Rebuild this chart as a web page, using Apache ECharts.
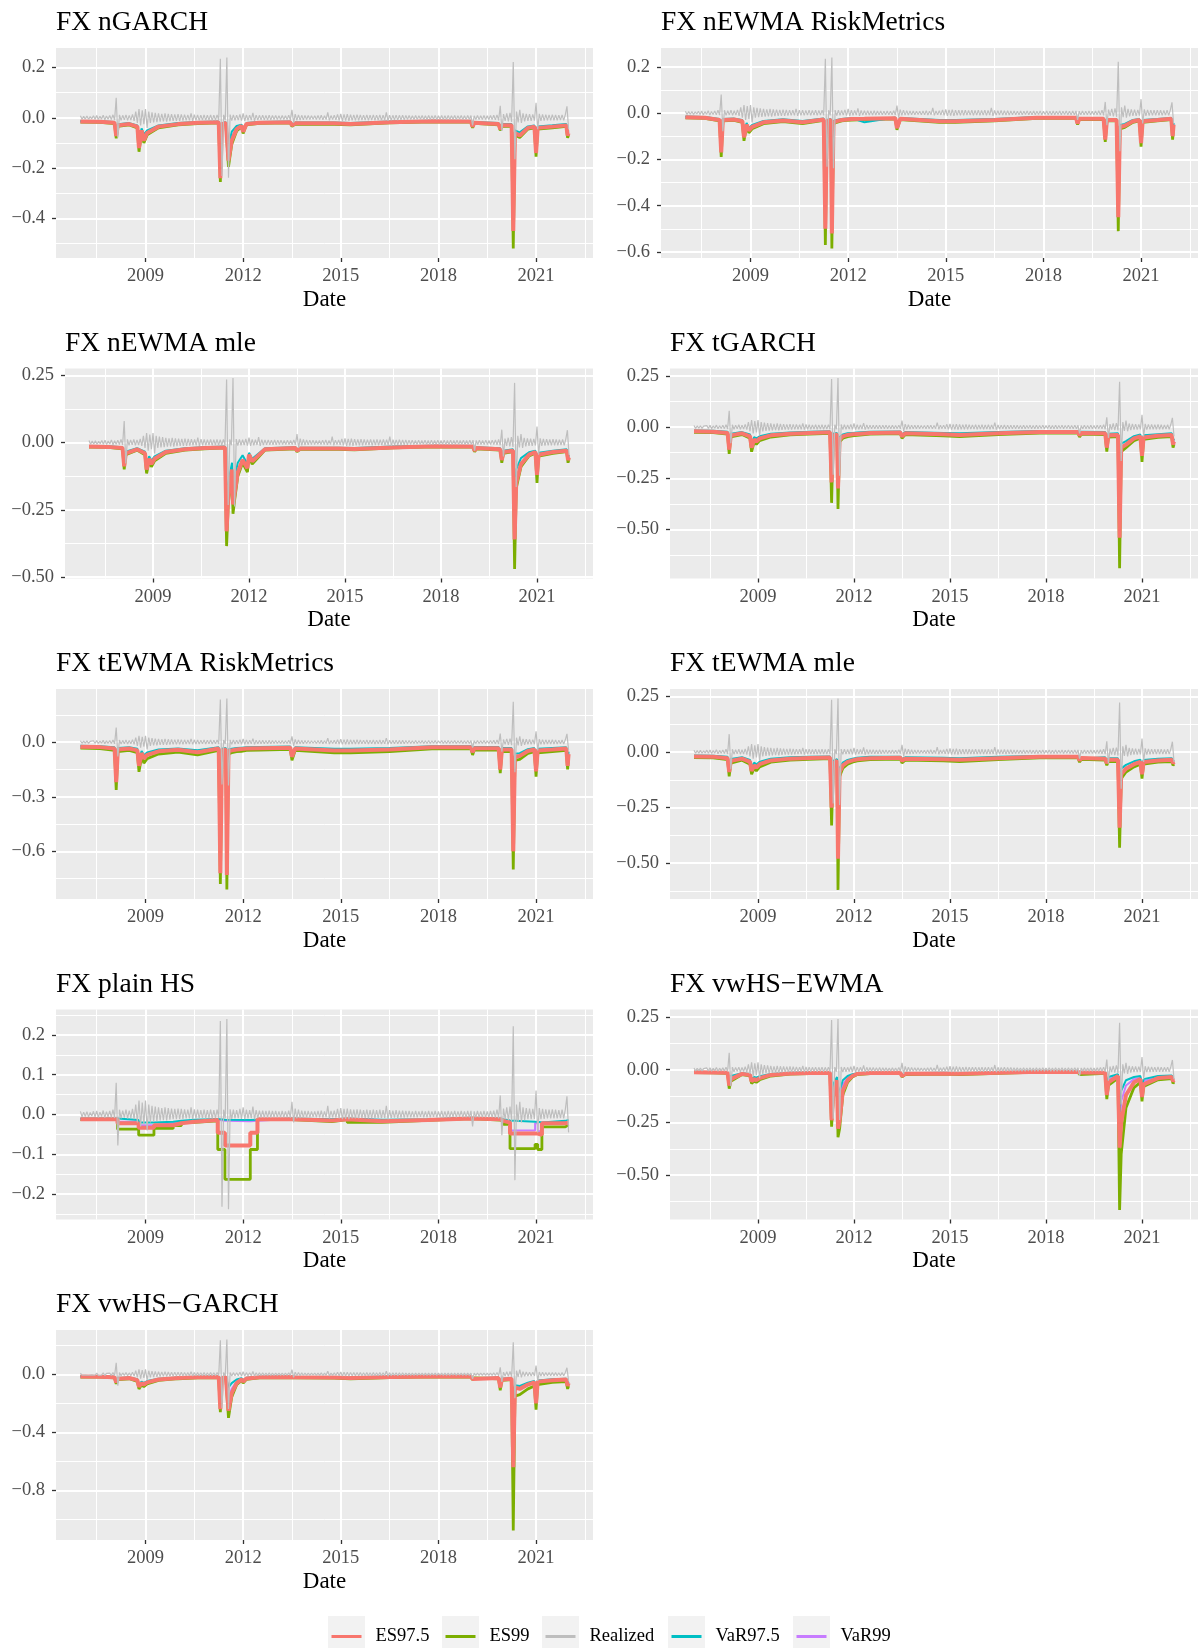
<!DOCTYPE html>
<html lang="en">
<head>
<meta charset="UTF-8">
<title>FX VaR and ES</title>
<style>
  *{margin:0;padding:0;}
  body{background:#fff;}
  #main{width:1198px;height:1648px;}
</style>
<script src="https://cdn.jsdelivr.net/npm/echarts@6/dist/echarts.min.js"></script>
</head>
<body>
<div id="main"></div>
<script>
const seriesNames = ['ES97.5', 'ES99', 'Realized', 'VaR97.5', 'VaR99'];
const xTicks = [2009, 2012, 2015, 2018, 2021];
const xMinorTicks = [2007.5, 2010.5, 2013.5, 2016.5, 2019.5, 2022.5];

// realized returns, one value every 0.05 year from 2007.00
const realized = [
  0.008,-0.006,0.006,-0.005,0.007,-0.006,0.005,-0.004,0.008,-0.006,0.009,-0.007,0.006,-0.005,0.01,-0.008,0.007,-0.006,0.009,-0.007,
  0.012,-0.009,0.08,-0.078,0.012,-0.01,0.01,-0.008,0.012,-0.01,0.01,-0.009,0.014,-0.012,0.025,-0.02,0.035,-0.03,0.03,-0.025,
  0.035,-0.04,0.025,-0.02,0.022,-0.018,0.02,-0.017,0.018,-0.015,0.016,-0.014,0.018,-0.015,0.016,-0.013,0.015,-0.012,0.014,-0.012,
  0.015,-0.012,0.014,-0.011,0.013,-0.01,0.012,-0.01,0.018,-0.012,0.013,-0.01,0.012,-0.01,0.011,-0.009,0.012,-0.01,0.011,-0.009,
  0.012,-0.01,0.011,-0.009,0.012,-0.01,0.235,-0.232,0.012,-0.01,0.24,-0.238,0.013,-0.011,0.012,-0.01,0.011,-0.009,0.014,-0.011,
  0.018,-0.012,0.012,-0.01,0.011,-0.009,0.02,-0.012,0.011,-0.009,0.01,-0.008,0.01,-0.008,0.009,-0.008,0.01,-0.008,0.009,-0.007,
  0.009,-0.007,0.008,-0.007,0.009,-0.007,0.008,-0.007,0.01,-0.008,0.032,-0.02,0.015,-0.01,0.012,-0.009,0.01,-0.008,0.009,-0.007,
  0.009,-0.007,0.008,-0.006,0.008,-0.007,0.009,-0.007,0.01,-0.008,0.008,-0.007,0.022,-0.01,0.009,-0.007,0.01,-0.008,0.014,-0.01,
  0.016,-0.012,0.014,-0.011,0.015,-0.012,0.013,-0.01,0.012,-0.01,0.013,-0.01,0.012,-0.009,0.011,-0.009,0.012,-0.01,0.011,-0.009,
  0.012,-0.01,0.011,-0.009,0.012,-0.01,0.011,-0.009,0.022,-0.012,0.011,-0.009,0.01,-0.008,0.011,-0.009,0.01,-0.008,0.01,-0.008,
  0.009,-0.007,0.009,-0.007,0.008,-0.007,0.009,-0.007,0.008,-0.006,0.009,-0.007,0.008,-0.007,0.009,-0.007,0.008,-0.006,0.009,-0.007,
  0.008,-0.006,0.009,-0.007,0.008,-0.007,0.009,-0.007,0.008,-0.006,0.009,-0.007,0.008,-0.006,0.009,-0.007,0.008,-0.007,0.009,-0.007,
  0.009,-0.03,0.008,-0.007,0.009,-0.007,0.008,-0.007,0.009,-0.007,0.008,-0.007,0.009,-0.007,0.01,-0.008,0.012,-0.01,0.048,-0.052,
  0.015,-0.012,0.018,-0.014,0.02,-0.016,0.222,-0.165,0.025,-0.018,0.032,-0.02,0.018,-0.014,0.016,-0.012,0.015,-0.012,0.014,-0.011,
  0.06,-0.045,0.016,-0.012,0.014,-0.011,0.013,-0.01,0.012,-0.01,0.013,-0.01,0.012,-0.01,0.011,-0.009,0.012,-0.01,0.013,0.046,-0.045
];
const realizedDates = realized.map((v, k) => 2007 + k * 0.05);

// key dates for the model based forecasts
const dates = [
  2007.00,2007.60,2008.05,2008.10,2008.15,2008.50,2008.75,2008.80,2008.88,2008.95,
  2009.05,2009.40,2010.00,2010.60,2011.25,2011.30,2011.35,2011.47,2011.50,2011.55,
  2011.65,2011.80,2011.95,2012.00,2012.10,2012.50,2013.45,2013.50,2013.60,2014.80,
  2015.30,2016.50,2017.80,2019.00,2019.05,2019.10,2019.85,2019.90,2019.95,2020.25,
  2020.30,2020.35,2020.50,2020.75,2020.95,2021.00,2021.05,2021.50,2021.93,2021.97,2022.00
];

const garchES975 = [-0.015,-0.016,-0.02,-0.072,-0.03,-0.025,-0.035,-0.12,-0.05,-0.09, -0.06,-0.035,-0.025,-0.02,-0.018,-0.24,-0.025,-0.02,-0.02,-0.17, -0.09,-0.045,-0.032,-0.055,-0.025,-0.02,-0.018,-0.03,-0.022,-0.022, -0.025,-0.018,-0.014,-0.015,-0.035,-0.02,-0.025,-0.045,-0.03,-0.03, -0.45,-0.06,-0.07,-0.04,-0.035,-0.14,-0.04,-0.035,-0.03,-0.07,-0.06];
const garchES99 = [-0.017,-0.018,-0.023,-0.082,-0.034,-0.028,-0.04,-0.135,-0.056,-0.1, -0.068,-0.04,-0.028,-0.023,-0.02,-0.255,-0.028,-0.022,-0.022,-0.195, -0.105,-0.052,-0.036,-0.062,-0.028,-0.022,-0.02,-0.034,-0.025,-0.026, -0.028,-0.02,-0.016,-0.017,-0.04,-0.022,-0.028,-0.05,-0.034,-0.034, -0.52,-0.068,-0.078,-0.045,-0.04,-0.155,-0.045,-0.04,-0.034,-0.08,-0.068];
const garchVaR975 = [-0.013,-0.014,-0.017,-0.055,-0.026,-0.021,-0.03,-0.09,-0.042,-0.067, -0.05,-0.03,-0.021,-0.017,-0.015,-0.18,-0.021,-0.017,-0.017,-0.11, -0.055,-0.032,-0.027,-0.045,-0.021,-0.017,-0.015,-0.025,-0.019,-0.019, -0.021,-0.015,-0.012,-0.013,-0.03,-0.017,-0.021,-0.038,-0.025,-0.025, -0.34,-0.05,-0.058,-0.034,-0.03,-0.11,-0.034,-0.03,-0.025,-0.058,-0.05];
const garchVaR99 = [-0.0145,-0.0155,-0.0195,-0.064,-0.029,-0.024,-0.034,-0.105,-0.048,-0.078, -0.057,-0.034,-0.024,-0.0195,-0.0175,-0.21,-0.024,-0.0195,-0.0195,-0.14, -0.075,-0.04,-0.031,-0.05,-0.024,-0.0195,-0.0175,-0.029,-0.021,-0.021, -0.024,-0.0175,-0.0135,-0.0145,-0.034,-0.0195,-0.024,-0.043,-0.029,-0.029, -0.4,-0.057,-0.066,-0.038,-0.034,-0.13,-0.038,-0.034,-0.029,-0.066,-0.057];

const rmES975 = [-0.018,-0.02,-0.03,-0.17,-0.03,-0.028,-0.035,-0.105,-0.05,-0.075, -0.06,-0.04,-0.032,-0.04,-0.028,-0.5,-0.035,-0.03,-0.52,-0.04, -0.035,-0.03,-0.028,-0.03,-0.026,-0.025,-0.022,-0.065,-0.025,-0.035, -0.035,-0.03,-0.02,-0.02,-0.045,-0.025,-0.025,-0.115,-0.03,-0.03, -0.45,-0.06,-0.055,-0.035,-0.03,-0.13,-0.035,-0.03,-0.025,-0.1,-0.05];
const rmES99 = [-0.021,-0.023,-0.034,-0.19,-0.034,-0.032,-0.04,-0.12,-0.057,-0.085, -0.068,-0.046,-0.037,-0.046,-0.032,-0.57,-0.04,-0.034,-0.585,-0.046, -0.04,-0.034,-0.032,-0.034,-0.03,-0.028,-0.025,-0.072,-0.028,-0.04, -0.04,-0.034,-0.023,-0.023,-0.05,-0.028,-0.028,-0.125,-0.034,-0.034, -0.51,-0.068,-0.062,-0.04,-0.034,-0.145,-0.04,-0.034,-0.028,-0.115,-0.057];
const rmVaR975 = [-0.015,-0.017,-0.026,-0.14,-0.026,-0.024,-0.03,-0.09,-0.043,-0.064, -0.051,-0.034,-0.027,-0.034,-0.024,-0.42,-0.03,-0.026,-0.44,-0.034, -0.03,-0.026,-0.024,-0.026,-0.022,-0.04,-0.019,-0.055,-0.021,-0.03, -0.03,-0.026,-0.017,-0.017,-0.038,-0.021,-0.021,-0.098,-0.026,-0.026, -0.38,-0.051,-0.047,-0.03,-0.026,-0.11,-0.03,-0.026,-0.021,-0.085,-0.043];
const rmVaR99 = [-0.0175,-0.0195,-0.029,-0.165,-0.029,-0.027,-0.034,-0.1,-0.048,-0.073, -0.058,-0.039,-0.031,-0.039,-0.027,-0.48,-0.034,-0.029,-0.5,-0.039, -0.034,-0.029,-0.027,-0.029,-0.025,-0.024,-0.021,-0.063,-0.024,-0.034, -0.034,-0.029,-0.019,-0.019,-0.044,-0.024,-0.024,-0.11,-0.029,-0.029, -0.43,-0.058,-0.053,-0.034,-0.029,-0.125,-0.034,-0.029,-0.024,-0.097,-0.048];

const mleES975 = [-0.015,-0.016,-0.02,-0.088,-0.04,-0.025,-0.04,-0.1,-0.06,-0.08, -0.06,-0.035,-0.025,-0.02,-0.018,-0.33,-0.2,-0.1,-0.23,-0.19, -0.11,-0.065,-0.095,-0.045,-0.07,-0.025,-0.02,-0.03,-0.022,-0.022, -0.024,-0.018,-0.014,-0.015,-0.03,-0.02,-0.025,-0.065,-0.035,-0.03, -0.36,-0.15,-0.08,-0.045,-0.035,-0.12,-0.045,-0.035,-0.03,-0.065,-0.055];
const mleES99 = [-0.017,-0.018,-0.023,-0.1,-0.045,-0.028,-0.045,-0.115,-0.068,-0.09, -0.068,-0.04,-0.028,-0.023,-0.02,-0.385,-0.23,-0.115,-0.265,-0.215, -0.125,-0.075,-0.11,-0.052,-0.08,-0.028,-0.023,-0.034,-0.025,-0.025, -0.027,-0.02,-0.016,-0.017,-0.034,-0.023,-0.028,-0.075,-0.04,-0.034, -0.47,-0.17,-0.09,-0.05,-0.04,-0.15,-0.05,-0.04,-0.034,-0.075,-0.062];
const mleVaR975 = [-0.013,-0.014,-0.017,-0.075,-0.034,-0.021,-0.034,-0.085,-0.051,-0.068, -0.051,-0.03,-0.021,-0.017,-0.015,-0.28,-0.15,-0.075,-0.17,-0.13, -0.075,-0.047,-0.08,-0.038,-0.06,-0.021,-0.017,-0.025,-0.019,-0.019, -0.02,-0.015,-0.012,-0.013,-0.025,-0.017,-0.021,-0.055,-0.03,-0.025, -0.3,-0.1,-0.058,-0.036,-0.03,-0.1,-0.038,-0.03,-0.025,-0.055,-0.047];
const mleVaR99 = [-0.0145,-0.0155,-0.0195,-0.085,-0.039,-0.024,-0.039,-0.097,-0.058,-0.078, -0.058,-0.034,-0.024,-0.0195,-0.0175,-0.32,-0.19,-0.095,-0.22,-0.18, -0.105,-0.062,-0.092,-0.044,-0.068,-0.024,-0.0195,-0.029,-0.021,-0.021, -0.023,-0.0175,-0.0135,-0.0145,-0.029,-0.0195,-0.024,-0.063,-0.034,-0.029, -0.35,-0.145,-0.078,-0.044,-0.034,-0.116,-0.044,-0.034,-0.029,-0.063,-0.053];

const tgarchES975 = [-0.02,-0.022,-0.028,-0.11,-0.04,-0.03,-0.045,-0.1,-0.06,-0.07, -0.055,-0.04,-0.032,-0.028,-0.025,-0.27,-0.04,-0.035,-0.3,-0.06, -0.045,-0.038,-0.035,-0.04,-0.033,-0.028,-0.026,-0.045,-0.03,-0.035, -0.038,-0.03,-0.024,-0.024,-0.04,-0.028,-0.03,-0.1,-0.04,-0.038, -0.54,-0.1,-0.085,-0.055,-0.045,-0.14,-0.05,-0.042,-0.038,-0.085,-0.07];
const tgarchES99 = [-0.025,-0.027,-0.034,-0.13,-0.048,-0.036,-0.054,-0.12,-0.072,-0.084, -0.066,-0.048,-0.038,-0.034,-0.03,-0.37,-0.048,-0.042,-0.4,-0.072, -0.054,-0.046,-0.042,-0.048,-0.04,-0.034,-0.031,-0.054,-0.036,-0.042, -0.046,-0.036,-0.029,-0.029,-0.048,-0.034,-0.036,-0.12,-0.048,-0.046, -0.69,-0.12,-0.1,-0.066,-0.054,-0.17,-0.06,-0.05,-0.046,-0.1,-0.084];
const tgarchVaR975 = [-0.016,-0.018,-0.022,-0.088,-0.032,-0.024,-0.036,-0.08,-0.048,-0.056, -0.044,-0.032,-0.026,-0.022,-0.02,-0.22,-0.032,-0.028,-0.24,-0.048, -0.036,-0.03,-0.028,-0.032,-0.026,-0.022,-0.021,-0.036,-0.024,-0.028, -0.03,-0.024,-0.019,-0.019,-0.032,-0.022,-0.024,-0.08,-0.032,-0.03, -0.43,-0.08,-0.068,-0.044,-0.036,-0.11,-0.04,-0.034,-0.03,-0.068,-0.056];
const tgarchVaR99 = [-0.019,-0.021,-0.027,-0.105,-0.038,-0.029,-0.043,-0.095,-0.057,-0.067, -0.053,-0.038,-0.031,-0.027,-0.024,-0.26,-0.038,-0.034,-0.29,-0.057, -0.043,-0.036,-0.034,-0.038,-0.032,-0.027,-0.025,-0.043,-0.029,-0.034, -0.036,-0.029,-0.023,-0.023,-0.038,-0.027,-0.029,-0.095,-0.038,-0.036, -0.52,-0.095,-0.082,-0.053,-0.043,-0.135,-0.048,-0.04,-0.036,-0.082,-0.067];

const trmES975 = [-0.025,-0.027,-0.035,-0.22,-0.04,-0.035,-0.045,-0.13,-0.06,-0.09, -0.07,-0.05,-0.042,-0.055,-0.035,-0.72,-0.045,-0.04,-0.73,-0.05, -0.045,-0.04,-0.038,-0.04,-0.035,-0.033,-0.03,-0.08,-0.035,-0.045, -0.045,-0.04,-0.028,-0.028,-0.055,-0.033,-0.033,-0.15,-0.04,-0.04, -0.6,-0.08,-0.075,-0.048,-0.04,-0.16,-0.045,-0.04,-0.035,-0.13,-0.065];
const trmES99 = [-0.032,-0.035,-0.045,-0.262,-0.052,-0.045,-0.058,-0.163,-0.078,-0.115, -0.09,-0.065,-0.054,-0.07,-0.045,-0.78,-0.058,-0.052,-0.81,-0.065, -0.058,-0.052,-0.05,-0.052,-0.045,-0.043,-0.039,-0.1,-0.045,-0.058, -0.058,-0.052,-0.036,-0.036,-0.07,-0.043,-0.043,-0.17,-0.052,-0.052, -0.7,-0.1,-0.095,-0.062,-0.052,-0.19,-0.058,-0.052,-0.045,-0.15,-0.085];
const trmVaR975 = [-0.02,-0.022,-0.028,-0.176,-0.032,-0.028,-0.036,-0.104,-0.048,-0.072, -0.056,-0.04,-0.034,-0.044,-0.028,-0.58,-0.036,-0.032,-0.58,-0.04, -0.036,-0.032,-0.03,-0.032,-0.028,-0.026,-0.024,-0.064,-0.028,-0.036, -0.036,-0.032,-0.022,-0.022,-0.044,-0.026,-0.026,-0.12,-0.032,-0.032, -0.48,-0.064,-0.06,-0.038,-0.032,-0.128,-0.036,-0.032,-0.028,-0.104,-0.052];
const trmVaR99 = [-0.024,-0.026,-0.034,-0.21,-0.039,-0.034,-0.044,-0.125,-0.058,-0.087, -0.068,-0.048,-0.041,-0.053,-0.034,-0.7,-0.044,-0.039,-0.7,-0.048, -0.044,-0.039,-0.037,-0.039,-0.034,-0.032,-0.029,-0.077,-0.034,-0.044, -0.044,-0.039,-0.027,-0.027,-0.053,-0.032,-0.032,-0.145,-0.039,-0.039, -0.58,-0.077,-0.073,-0.047,-0.039,-0.155,-0.044,-0.039,-0.034,-0.125,-0.063];

const tmleES975 = [-0.02,-0.021,-0.028,-0.09,-0.04,-0.03,-0.045,-0.085,-0.06,-0.07, -0.055,-0.038,-0.03,-0.027,-0.025,-0.25,-0.05,-0.04,-0.48,-0.09, -0.06,-0.045,-0.038,-0.04,-0.033,-0.028,-0.026,-0.04,-0.03,-0.033, -0.035,-0.028,-0.022,-0.022,-0.038,-0.027,-0.03,-0.05,-0.035,-0.035, -0.34,-0.1,-0.075,-0.055,-0.045,-0.1,-0.045,-0.038,-0.035,-0.05,-0.045];
const tmleES99 = [-0.025,-0.026,-0.034,-0.11,-0.05,-0.037,-0.055,-0.1,-0.073,-0.085, -0.067,-0.046,-0.037,-0.033,-0.03,-0.33,-0.062,-0.05,-0.62,-0.11, -0.073,-0.055,-0.046,-0.05,-0.04,-0.034,-0.032,-0.05,-0.037,-0.04, -0.043,-0.034,-0.027,-0.027,-0.046,-0.033,-0.037,-0.06,-0.043,-0.043, -0.43,-0.12,-0.09,-0.067,-0.055,-0.12,-0.055,-0.046,-0.043,-0.06,-0.055];
const tmleVaR975 = [-0.016,-0.017,-0.022,-0.072,-0.032,-0.024,-0.036,-0.068,-0.048,-0.056, -0.044,-0.03,-0.024,-0.022,-0.02,-0.2,-0.04,-0.032,-0.38,-0.072, -0.048,-0.036,-0.03,-0.032,-0.026,-0.022,-0.021,-0.032,-0.024,-0.026, -0.028,-0.022,-0.018,-0.018,-0.03,-0.022,-0.024,-0.04,-0.028,-0.028, -0.27,-0.075,-0.058,-0.042,-0.035,-0.08,-0.036,-0.03,-0.028,-0.04,-0.036];
const tmleVaR99 = [-0.019,-0.02,-0.027,-0.086,-0.038,-0.029,-0.043,-0.082,-0.057,-0.067, -0.053,-0.036,-0.029,-0.026,-0.024,-0.24,-0.048,-0.038,-0.46,-0.086, -0.057,-0.043,-0.036,-0.038,-0.032,-0.027,-0.025,-0.038,-0.029,-0.032, -0.034,-0.027,-0.021,-0.021,-0.036,-0.026,-0.029,-0.048,-0.034,-0.034, -0.33,-0.096,-0.072,-0.053,-0.043,-0.096,-0.043,-0.036,-0.034,-0.048,-0.043];

// plain historical simulation: step changes
const hsDates = [2007.0,2008.14,2008.79,2009.26,2009.85,2010.1,2010.5,2011.22,2011.44,2012.22,2012.44,2013.5,2014.73,2015.2,2016.26,2017.67,2019.0,2019.9,2020.0,2020.2,2020.97,2021.05,2021.18,2021.9,2022.0];
const hsES975 = [-0.012,-0.022,-0.033,-0.027,-0.022,-0.018,-0.014,-0.046,-0.078,-0.046,-0.012,-0.015,-0.012,-0.017,-0.014,-0.01,-0.012,-0.016,-0.02,-0.048,-0.048,-0.051,-0.022,-0.021,-0.021];
const hsES99 = [-0.013,-0.037,-0.052,-0.035,-0.028,-0.02,-0.016,-0.088,-0.163,-0.088,-0.013,-0.018,-0.013,-0.02,-0.015,-0.01,-0.014,-0.018,-0.025,-0.086,-0.075,-0.088,-0.031,-0.026,-0.026];
const hsVaR975 = [-0.01,-0.014,-0.02,-0.018,-0.016,-0.013,-0.011,-0.013,-0.014,-0.013,-0.01,-0.012,-0.01,-0.013,-0.012,-0.008,-0.01,-0.012,-0.015,-0.018,-0.018,-0.02,-0.016,-0.014,-0.014];
const hsVaR99 = [-0.011,-0.018,-0.027,-0.022,-0.02,-0.016,-0.013,-0.016,-0.017,-0.016,-0.011,-0.013,-0.011,-0.014,-0.013,-0.009,-0.011,-0.014,-0.017,-0.04,-0.022,-0.042,-0.02,-0.019,-0.019];

const vwewmaES975 = [-0.012,-0.013,-0.015,-0.075,-0.045,-0.02,-0.025,-0.055,-0.045,-0.05, -0.04,-0.025,-0.018,-0.016,-0.015,-0.24,-0.12,-0.05,-0.28,-0.24, -0.1,-0.05,-0.03,-0.025,-0.02,-0.016,-0.015,-0.03,-0.02,-0.018, -0.02,-0.015,-0.01,-0.011,-0.02,-0.014,-0.015,-0.12,-0.06,-0.03, -0.37,-0.25,-0.12,-0.06,-0.045,-0.13,-0.07,-0.04,-0.035,-0.055,-0.05];
const vwewmaES99 = [-0.014,-0.015,-0.017,-0.09,-0.055,-0.023,-0.03,-0.065,-0.055,-0.06, -0.048,-0.03,-0.021,-0.019,-0.018,-0.27,-0.14,-0.06,-0.32,-0.28, -0.12,-0.06,-0.035,-0.03,-0.023,-0.019,-0.017,-0.034,-0.023,-0.021, -0.023,-0.017,-0.012,-0.013,-0.023,-0.016,-0.017,-0.14,-0.075,-0.04, -0.665,-0.4,-0.18,-0.085,-0.06,-0.15,-0.08,-0.048,-0.042,-0.065,-0.058];
const vwewmaVaR975 = [-0.01,-0.011,-0.013,-0.05,-0.03,-0.017,-0.021,-0.042,-0.035,-0.038, -0.031,-0.021,-0.015,-0.014,-0.013,-0.2,-0.07,-0.035,-0.15,-0.1, -0.05,-0.03,-0.022,-0.02,-0.017,-0.014,-0.013,-0.025,-0.017,-0.015, -0.017,-0.013,-0.0085,-0.0095,-0.017,-0.012,-0.013,-0.07,-0.035,-0.022, -0.2,-0.1,-0.05,-0.035,-0.03,-0.08,-0.045,-0.03,-0.028,-0.042,-0.04];
const vwewmaVaR99 = [-0.0115,-0.0125,-0.0145,-0.065,-0.038,-0.019,-0.024,-0.05,-0.042,-0.046, -0.037,-0.024,-0.017,-0.0155,-0.0145,-0.22,-0.095,-0.045,-0.2,-0.15, -0.07,-0.04,-0.027,-0.023,-0.019,-0.0155,-0.0145,-0.028,-0.019,-0.017, -0.019,-0.0145,-0.0095,-0.0105,-0.019,-0.0135,-0.0145,-0.095,-0.048,-0.027, -0.28,-0.15,-0.075,-0.045,-0.038,-0.1,-0.055,-0.036,-0.032,-0.05,-0.046];

const vwgarchES975 = [-0.015,-0.016,-0.02,-0.055,-0.03,-0.025,-0.04,-0.085,-0.06,-0.07, -0.055,-0.035,-0.025,-0.02,-0.018,-0.24,-0.025,-0.02,-0.02,-0.25, -0.13,-0.06,-0.035,-0.05,-0.028,-0.02,-0.018,-0.025,-0.02,-0.022, -0.025,-0.018,-0.014,-0.015,-0.032,-0.02,-0.025,-0.09,-0.035,-0.03, -0.64,-0.09,-0.1,-0.07,-0.055,-0.2,-0.05,-0.04,-0.035,-0.08,-0.06];
const vwgarchES99 = [-0.018,-0.019,-0.024,-0.065,-0.036,-0.03,-0.048,-0.1,-0.072,-0.084, -0.066,-0.042,-0.03,-0.024,-0.022,-0.26,-0.03,-0.024,-0.024,-0.3, -0.155,-0.072,-0.042,-0.06,-0.034,-0.024,-0.022,-0.03,-0.024,-0.026, -0.03,-0.022,-0.017,-0.018,-0.038,-0.024,-0.03,-0.11,-0.042,-0.036, -1.076,-0.15,-0.14,-0.1,-0.08,-0.244,-0.07,-0.055,-0.05,-0.1,-0.08];
const vwgarchVaR975 = [-0.013,-0.014,-0.017,-0.045,-0.025,-0.021,-0.033,-0.07,-0.05,-0.058, -0.046,-0.03,-0.021,-0.017,-0.015,-0.2,-0.021,-0.017,-0.017,-0.09, -0.06,-0.035,-0.026,-0.04,-0.023,-0.017,-0.015,-0.021,-0.017,-0.019, -0.021,-0.015,-0.012,-0.013,-0.027,-0.017,-0.021,-0.075,-0.03,-0.025, -0.2,-0.075,-0.08,-0.058,-0.046,-0.165,-0.042,-0.034,-0.03,-0.066,-0.05];
const vwgarchVaR99 = [-0.0145,-0.0155,-0.0195,-0.053,-0.029,-0.024,-0.039,-0.082,-0.058,-0.068, -0.053,-0.034,-0.024,-0.0195,-0.0175,-0.23,-0.024,-0.0195,-0.0195,-0.16, -0.1,-0.05,-0.032,-0.048,-0.027,-0.0195,-0.0175,-0.024,-0.0195,-0.021, -0.024,-0.0175,-0.0135,-0.0145,-0.031,-0.0195,-0.024,-0.087,-0.034,-0.029, -0.6,-0.087,-0.097,-0.068,-0.053,-0.19,-0.048,-0.039,-0.034,-0.077,-0.058];

// y tick labels per panel
const yTicks1 = [-0.4, -0.2, 0, 0.2];
const yMinor1 = [-0.5, -0.3, -0.1, 0.1];
const yTicks2 = [-0.6, -0.4, -0.2, 0, 0.2];
const yMinor2 = [-0.5, -0.3, -0.1, 0.1];
const yTicksQ = [-0.5, -0.25, 0, 0.25];
const yMinorQ = [-0.625, -0.375, -0.125, 0.125];
const yTicks5 = [-0.6, -0.3, 0];
const yMinor5 = [-0.75, -0.45, -0.15, 0.15];
const yTicks7 = [-0.2, -0.1, 0, 0.1, 0.2];
const yMinor7 = [-0.25, -0.15, -0.05, 0.05, 0.15, 0.25];
const yTicks9 = [-0.8, -0.4, 0];
const yMinor9 = [-1.0, -0.6, -0.2, 0.2];

const panels = [
    {title: 'FX nGARCH', left: 56, y: [-0.558, 0.278], ticks: yTicks1, minor: yMinor1, dec: 1, x: dates, s: [garchES975, garchES99, garchVaR975, garchVaR99]},
    {title: 'FX nEWMA RiskMetrics', left: 661, y: [-0.626, 0.281], ticks: yTicks2, minor: yMinor2, dec: 1, x: dates, s: [rmES975, rmES99, rmVaR975, rmVaR99]},
    {title: 'FX nEWMA mle', left: 65, y: [-0.5055, 0.2755], ticks: yTicksQ, minor: yMinorQ, dec: 2, x: dates, s: [mleES975, mleES99, mleVaR975, mleVaR99]},
    {title: 'FX tGARCH', left: 670, y: [-0.74, 0.287], ticks: yTicksQ, minor: yMinorQ, dec: 2, x: dates, s: [tgarchES975, tgarchES99, tgarchVaR975, tgarchVaR99]},
    {title: 'FX tEWMA RiskMetrics', left: 56, y: [-0.862, 0.2925], ticks: yTicks5, minor: yMinor5, dec: 1, x: dates, s: [trmES975, trmES99, trmVaR975, trmVaR99]},
    {title: 'FX tEWMA mle', left: 670, y: [-0.661, 0.283], ticks: yTicksQ, minor: yMinorQ, dec: 2, x: dates, s: [tmleES975, tmleES99, tmleVaR975, tmleVaR99]},
    {title: 'FX plain HS', left: 56, y: [-0.264, 0.264], ticks: yTicks7, minor: yMinor7, dec: 1, x: hsDates, step: 'end', s: [hsES975, hsES99, hsVaR975, hsVaR99]},
    {title: 'FX vwHS\u2212EWMA', left: 670, y: [-0.71, 0.285], ticks: yTicksQ, minor: yMinorQ, dec: 2, x: dates, s: [vwewmaES975, vwewmaES99, vwewmaVaR975, vwewmaVaR99]},
    {title: 'FX vwHS\u2212GARCH', left: 56, y: [-1.142, 0.306], ticks: yTicks9, minor: yMinor9, dec: 1, x: dates, s: [vwgarchES975, vwgarchES99, vwgarchVaR975, vwgarchVaR99]}
];

const colors = {'ES97.5': '#F8766D', 'ES99': '#7CAE00', 'Realized': '#BEBEBE', 'VaR97.5': '#00BFC4', 'VaR99': '#C77CFF'};
const widths = {'ES97.5': 4, 'ES99': 2.8, 'VaR97.5': 2, 'VaR99': 2};
const font = '"Liberation Serif", "DejaVu Serif", "Times New Roman", serif';

let chart = echarts.init(document.getElementById('main'), null, {renderer: 'canvas'});

function pairs(xs, ys) {
    return xs.map((x, k) => [x, ys[k]]);
}
function fmt(dec) {
    return v => (Math.abs(v) < 1e-9 ? 0 : v).toFixed(dec).replace('-', '\u2212');
}

let grids = [], xAxes = [], yAxes = [], series = [], titles = [];
panels.forEach((p, i) => {
    let row = Math.floor(i / 2), col = i % 2;
    let top = 48 + 320.5 * row;
    let right = col === 0 ? 593 : 1198;
    grids.push({left: p.left, top: top, width: right - p.left, height: 210, show: true,
        backgroundColor: '#EBEBEB', borderWidth: 0, outerBoundsMode: 'none'});
    titles.push({text: p.title, left: p.left, top: top - 39, padding: 0,
        textStyle: {fontFamily: font, fontSize: 27.5, fontWeight: 'normal', color: '#000', lineHeight: 28}});

    let xi = xAxes.length;
    xAxes.push({
        gridIndex: i, type: 'value', min: 2006.25, max: 2022.75, position: 'bottom',
        name: 'Date', nameLocation: 'middle', nameGap: 30,
        nameTextStyle: {fontFamily: font, fontSize: 23, color: '#000'},
        axisLine: {show: false, onZero: false},
        axisTick: {show: true, length: 4, lineStyle: {color: '#333', width: 1.3}, customValues: xTicks},
        axisLabel: {customValues: xTicks, margin: 9, fontFamily: font, fontSize: 18.5, color: '#4D4D4D', formatter: v => String(v)},
        splitLine: {show: true, lineStyle: {color: '#FFFFFF', width: 2}}
    });
    xAxes.push({
        gridIndex: i, type: 'value', min: 2006.25, max: 2022.75, position: 'bottom',
        axisLine: {show: false, onZero: false}, axisLabel: {show: false},
        axisTick: {show: false, customValues: xMinorTicks},
        splitLine: {show: true, lineStyle: {color: '#FFFFFF', width: 1}}
    });
    let yi = yAxes.length;
    yAxes.push({
        gridIndex: i, type: 'value', min: p.y[0], max: p.y[1], position: 'left',
        axisLine: {show: false, onZero: false},
        axisTick: {show: true, length: 4, lineStyle: {color: '#333', width: 1.3}, customValues: p.ticks},
        axisLabel: {customValues: p.ticks, margin: 11, fontFamily: font, fontSize: 18.5, color: '#4D4D4D', formatter: fmt(p.dec)},
        splitLine: {show: true, lineStyle: {color: '#FFFFFF', width: 2}}
    });
    yAxes.push({
        gridIndex: i, type: 'value', min: p.y[0], max: p.y[1], position: 'left',
        axisLine: {show: false, onZero: false}, axisLabel: {show: false},
        axisTick: {show: false, customValues: p.minor},
        splitLine: {show: true, lineStyle: {color: '#FFFFFF', width: 1}}
    });

    let model = {'ES97.5': p.s[0], 'ES99': p.s[1], 'VaR97.5': p.s[2], 'VaR99': p.s[3]};
    // drawing order: ES99 at the back, realized on top
    ['ES99', 'VaR99', 'VaR97.5', 'ES97.5'].forEach(name => {
        series.push({
            name: name, type: 'line', xAxisIndex: xi, yAxisIndex: yi,
            data: pairs(p.x, model[name]), step: p.step || false,
            showSymbol: false, symbol: 'none', silent: true,
            color: colors[name],
            lineStyle: {color: colors[name], width: widths[name]}
        });
    });
    series.push({
        name: 'Realized', type: 'line', xAxisIndex: xi, yAxisIndex: yi,
        data: pairs(realizedDates, realized),
        showSymbol: false, symbol: 'none', silent: true,
        color: colors['Realized'],
        lineStyle: {color: colors['Realized'], width: 1.2}
    });
});

const keyBoxX = [328, 442, 542, 668, 793];

let legends = seriesNames.map((n, k) => ({
    left: keyBoxX[k] + 3.5, top: 1627, padding: 0, itemWidth: 30, itemHeight: 3,
    icon: 'rect', selectedMode: false, z: 10, data: [n],
    textStyle: {fontFamily: font, fontSize: 18.5, color: '#000', padding: [0, 0, 0, 9]}
}));

let option = {
    animation: false,
    backgroundColor: '#FFFFFF',
    title: titles,
    grid: grids,
    xAxis: xAxes,
    yAxis: yAxes,
    series: series,
    legend: legends,
    graphic: keyBoxX.map(x => ({
        type: 'rect', z: 0, silent: true,
        shape: {x: x, y: 1616, width: 37, height: 34},
        style: {fill: '#F2F2F2'}
    }))
};
chart.setOption(option);
</script>
</body>
</html>
